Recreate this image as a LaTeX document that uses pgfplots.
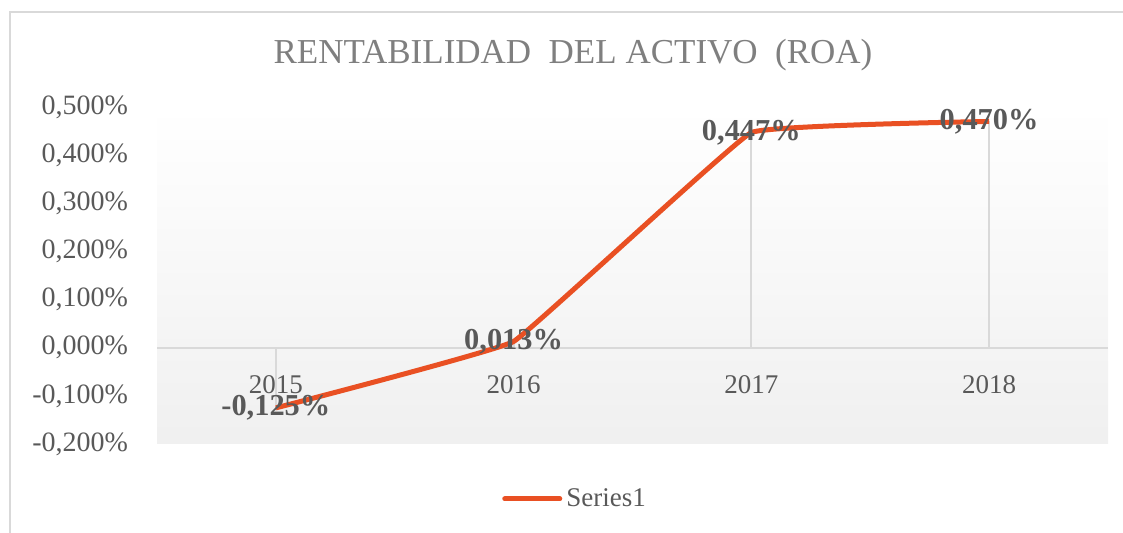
\documentclass[border=0pt]{standalone}
\usepackage{pgfplots}
\pgfplotsset{compat=1.18}
\usepackage{fontspec}
\setmainfont{Liberation Serif}
\definecolor{ser}{RGB}{233,80,35}
\definecolor{txt}{RGB}{89,89,89}
\definecolor{grd}{RGB}{217,217,217}
\definecolor{ttl}{RGB}{127,127,127}
\pgfplotstableread{
x y
0 -0.125
1 0.013
2 0.447
3 0.470
}\roa
\begin{document}
\begin{tikzpicture}
\useasboundingbox (0pt,0pt) rectangle (561.5pt,266.5pt);
\draw[grd, line width=1pt] (5pt,0pt) -- (5pt,260.5pt) -- (561.5pt,260.5pt);
\node[ttl, font=\fontsize{17.5}{20}\selectfont] at (286.5pt,239pt) {RENTABILIDAD\ \ DEL ACTIVO\ \ (ROA)};
\coordinate (A) at (78.5pt,44.5pt);
\begin{axis}[
  at={(A)}, anchor=south west,
  scale only axis, width=475.5pt, height=168.5pt,
  xmin=-0.5, xmax=3.5, ymin=-0.2, ymax=0.5,
  axis line style={draw=none},
  xtick={0,1,2,3}, xticklabels={2015,2016,2017,2018},
  ytick={-0.2,-0.1,0,0.1,0.2,0.3,0.4,0.5},
  extra y ticks={0}, extra y tick labels={},
  extra y tick style={grid=major, major grid style={grd, line width=1pt}},
  major tick length=0pt, tick style={draw=none},
  /pgf/number format/assume math mode=true,
  yticklabel={\pgfmathprintnumber[fixed,fixed zerofill,precision=3,use comma]{\tick}\%},
  yticklabel style={font=\fontsize{14}{16}\selectfont, text=txt, xshift=-11pt},
  xticklabel style={font=\fontsize{13.5}{16}\selectfont, text=txt, yshift=38pt},
  axis background/.style={shade, top color=white, bottom color=black!6},
  clip=false,
  legend style={at={(0.4406,-0.163)}, anchor=center, draw=none, fill=none, font=\fontsize{13.5}{16}\selectfont, text=txt},
  legend image code/.code={\draw[#1, line width=2.5pt, line cap=round] (0pt,0pt) -- (27.5pt,0pt);},
]
\addplot[ycomb, grd, line width=1pt, forget plot, mark=none] table[x=x,y=y] {\roa};
\addplot[ser, line width=2.5pt, smooth, tension=0.12, line join=round, mark=none,
  point meta=y,
  nodes near coords={\pgfmathprintnumber[fixed,fixed zerofill,precision=3,use comma]{\pgfplotspointmeta}\%},
  nodes near coords style={anchor=center, font=\bfseries\fontsize{15.2}{17}\selectfont, text=txt}
] table[x=x,y=y] {\roa};
\addlegendentry{Series1}
\end{axis}
\end{tikzpicture}
\end{document}
